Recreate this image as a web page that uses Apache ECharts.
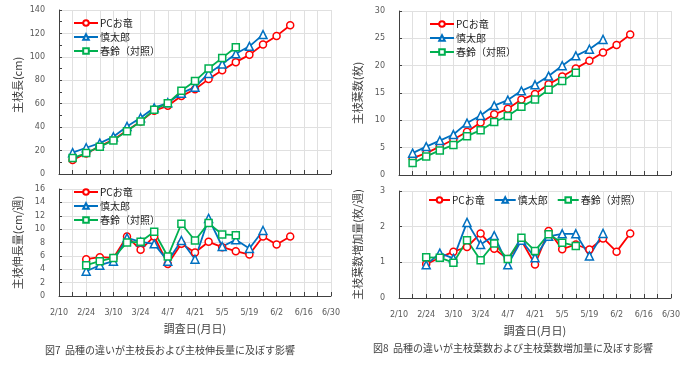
<!DOCTYPE html>
<html>
<head>
<meta charset="utf-8">
<script src="https://cdn.jsdelivr.net/npm/echarts@6/dist/echarts.min.js"></script>
<style>
html,body{margin:0;padding:0;background:#fff;}
#chart{width:700px;height:370px;}
</style>
</head>
<body>
<div id="chart"></div>
<script>
// Survey dates (weekly), labels shown every two weeks
const dates = ['2/10','2/17','2/24','3/3','3/10','3/17','3/24','3/31','4/7','4/14','4/21','4/28','5/5','5/12','5/19','5/26','6/2','6/9','6/16','6/23','6/30'];
const seriesNames = ['PCお竜', '慎太郎', '春鈴（対照）'];

// Fig.7 main shoot length (cm)
const lenPC   = [null, 12, 17.6, 23.6, 29.3, 37.2, 44.9, 54, 58.2, 66.5, 72.4, 81, 88.6, 95.5, 101.7, 110.5, 117.9, 127, null, null, null];
const lenShin = [null, 18.2, 22.4, 26.4, 31.8, 40.6, 48, 56.5, 60.8, 69, 74.1, 85.8, 93.8, 102.6, 109, 119, null, null, null, null, null];
const lenHaru = [null, 13.6, 17.9, 23.3, 28.7, 36.6, 44.9, 54.8, 60.5, 71, 79.3, 90, 99.1, 108.2, null, null, null, null, null, null, null];

// Fig.7 main shoot elongation (cm/week)
const grPC   = [null, null, 5.5, 5.8, 5.7, 8.9, 6.9, 8.9, 4.8, 7.8, 6.5, 8.1, 7.3, 6.7, 6.2, 8.9, 7.7, 8.9, null, null, null];
const grShin = [null, null, 3.7, 4.6, 5.2, 8.7, 8.1, 7.8, 5.2, 8.3, 5.5, 11.6, 7.4, 8.4, 7.1, 9.8, null, null, null, null, null];
const grHaru = [null, null, 4.6, 5.2, 5.7, 8.0, 8.1, 9.6, 5.9, 10.8, 8.3, 10.9, 9.2, 9.1, null, null, null, null, null, null, null];

// Fig.8 main shoot leaf number
const lfPC   = [null, 3.1, 4.0, 5.2, 6.5, 7.9, 9.6, 11.1, 12.1, 13.8, 14.8, 16.6, 18.0, 19.5, 20.9, 22.4, 23.8, 25.7, null, null, null];
const lfShin = [null, 4.0, 5.2, 6.3, 7.4, 9.5, 10.9, 12.7, 13.7, 15.4, 16.5, 18.1, 20.0, 21.8, 23.0, 24.8, null, null, null, null, null];
const lfHaru = [null, 2.2, 3.4, 4.5, 5.5, 7.1, 8.2, 9.7, 10.8, 12.5, 13.8, 15.6, 17.2, 18.7, null, null, null, null, null, null, null];

// Fig.8 leaf number increase (leaves/week)
const lgPC   = [null, null, 0.95, 1.13, 1.30, 1.43, 1.81, 1.38, 1.09, 1.61, 0.94, 1.88, 1.37, 1.50, 1.36, 1.67, 1.30, 1.81, null, null, null];
const lgShin = [null, null, 0.93, 1.26, 1.11, 2.12, 1.50, 1.75, 0.93, 1.62, 1.13, 1.73, 1.80, 1.80, 1.18, 1.81, null, null, null, null, null];
const lgHaru = [null, null, 1.14, 1.13, 0.99, 1.62, 1.06, 1.53, 1.09, 1.69, 1.32, 1.79, 1.55, 1.46, null, null, null, null, null, null, null];

const yTitles = ['主枝長(cm)', '主枝伸長量(cm/週)', '主枝葉数(枚)', '主枝葉数増加量(枚/週)'];
const xTitle = '調査日(月日)';
const captions = ['図7  品種の違いが主枝長および主枝伸長量に及ぼす影響', '図8  品種の違いが主枝葉数および主枝葉数増加量に及ぼす影響'];

const colors = ['#ff0000', '#0070c0', '#00b050'];
const symbols = ['circle', 'triangle', 'rect'];
const symbolSizes = [7, 8, 7];
const tickFont = 'DejaVu Sans, Verdana, sans-serif';
const jpFont = '"Noto Sans CJK JP", sans-serif';

const chart = echarts.init(document.getElementById('chart'), null, {renderer: 'canvas'});

const grids = [
  {left: 59, width: 272, top: 10, height: 164},
  {left: 59, width: 272, top: 189, height: 107},
  {left: 399, width: 272, top: 11, height: 164},
  {left: 399, width: 272, top: 191, height: 107}
];

function xAxisFor(i, showLabels) {
  return {
    type: 'category', gridIndex: i, data: dates, boundaryGap: false,
    axisLine: {lineStyle: {color: '#404040', width: 1}},
    axisTick: {show: true, inside: true, interval: 0, length: 4, lineStyle: {color: '#404040'}},
    axisLabel: {show: showLabels, interval: 1, color: '#595959', fontFamily: tickFont, fontSize: 8, margin: 13},
    splitLine: {show: true, interval: 0, lineStyle: {color: '#e0e0e0', width: 1}},
    name: showLabels ? xTitle : '', nameLocation: 'middle', nameGap: 27,
    nameTextStyle: {fontFamily: jpFont, fontSize: 11, color: '#404040'}
  };
}

function yAxisFor(i, max, interval, minor, padTop) {
  return {
    type: 'value', gridIndex: i, min: 0, max: max, interval: interval,
    axisLine: {show: true, lineStyle: {color: '#404040', width: 1}},
    axisTick: {show: true, inside: true, length: 3, lineStyle: {color: '#404040'}},
    minorTick: {show: minor, splitNumber: 2, length: 3, lineStyle: {color: '#404040'}},
    minorSplitLine: {show: false},
    axisLabel: {color: '#595959', fontFamily: tickFont, fontSize: 8, margin: 14},
    splitLine: {show: true, lineStyle: {color: '#e0e0e0', width: 1}},
    name: yTitles[i], nameLocation: 'middle', nameGap: 36,
    nameTextStyle: {fontFamily: jpFont, fontSize: 11, color: '#404040', padding: padTop || 0}
  };
}

function makeSeries(gridIdx, arrays) {
  return arrays.map((arr, k) => ({
    name: seriesNames[k], type: 'line', xAxisIndex: gridIdx, yAxisIndex: gridIdx,
    data: arr, symbol: symbols[k], symbolSize: symbolSizes[k],
    showAllSymbol: true, animation: false,
    lineStyle: {color: colors[k], width: 1.8},
    itemStyle: {color: '#ffffff', borderColor: colors[k], borderWidth: 1.5}
  }));
}

const legendText = {fontFamily: jpFont, fontSize: 10, color: '#222', padding: [0, 0, 0, -3]};

function vertLegend(left, top) {
  return {
    orient: 'vertical', left: left, top: top, padding: 0, itemGap: 4, itemWidth: 24, itemHeight: 7,
    data: seriesNames, selectedMode: false, textStyle: legendText
  };
}

const option = {
  animation: false,
  grid: grids,
  xAxis: [xAxisFor(0, false), xAxisFor(1, true), xAxisFor(2, false), xAxisFor(3, true)],
  yAxis: [
    yAxisFor(0, 140, 20, true, [0, 0, 0, 14]),
    yAxisFor(1, 16, 2, false),
    yAxisFor(2, 30, 5, false),
    yAxisFor(3, 3, 1, false)
  ],
  legend: [
    vertLegend(73, 18),
    vertLegend(73, 187),
    vertLegend(429, 19),
    {
      orient: 'horizontal', left: 428, top: 195, padding: 0, itemGap: 9, itemWidth: 21, itemHeight: 7,
      data: seriesNames, selectedMode: false, textStyle: legendText
    }
  ],
  title: [
    {text: captions[0], left: 45, top: 345, padding: 0, textStyle: {fontFamily: jpFont, fontSize: 10, fontWeight: 'normal', color: '#404040'}},
    {text: captions[1], left: 373, top: 343, padding: 0, textStyle: {fontFamily: jpFont, fontSize: 10, fontWeight: 'normal', color: '#404040'}}
  ],
  series: [].concat(
    makeSeries(0, [lenPC, lenShin, lenHaru]),
    makeSeries(1, [grPC, grShin, grHaru]),
    makeSeries(2, [lfPC, lfShin, lfHaru]),
    makeSeries(3, [lgPC, lgShin, lgHaru])
  )
};
chart.setOption(option);
</script>
</body>
</html>
